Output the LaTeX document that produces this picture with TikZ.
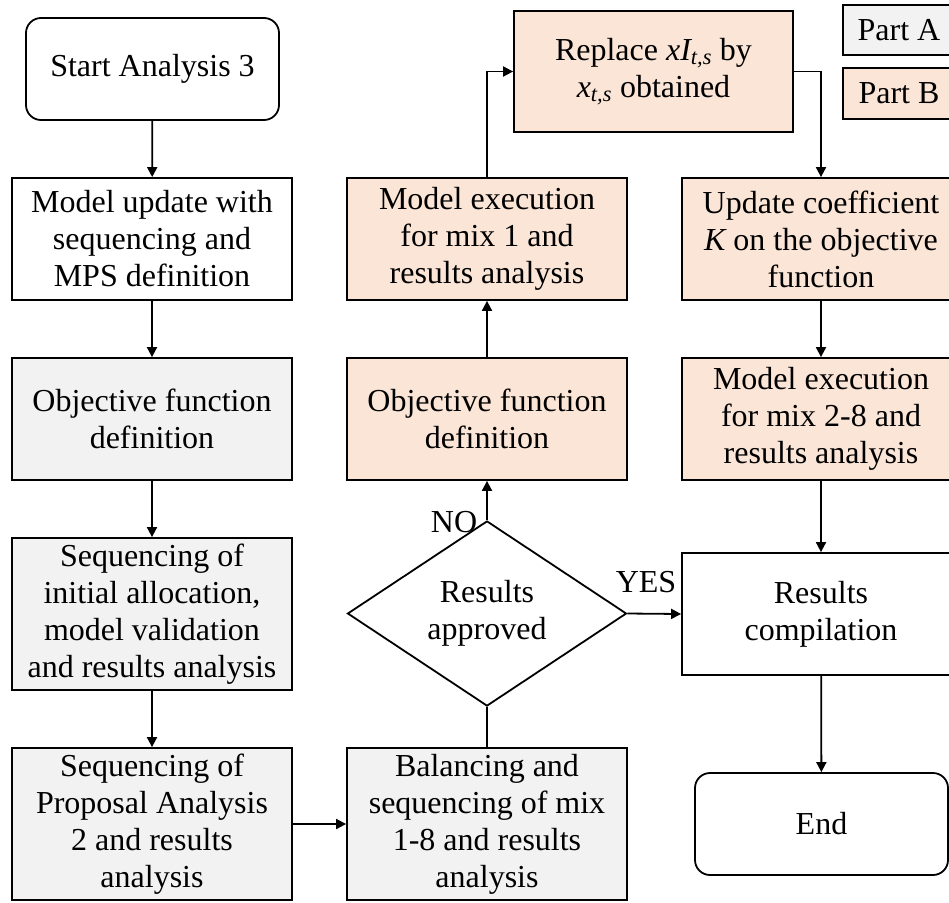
\documentclass[tikz,border=0pt]{standalone}
\usepackage{fontspec}
\setmainfont{Liberation Serif}
\usetikzlibrary{arrows.meta,shapes.geometric}
\definecolor{partA}{HTML}{F2F2F2}
\definecolor{partB}{HTML}{FBE5D6}
\tikzset{
  base/.style={draw=black, line width=1.8pt, align=center, inner sep=2pt,
               font=\fontsize{32}{37}\selectfont},
  plain/.style={base, fill=white, minimum width=280pt, minimum height=122pt},
  grey/.style={base, fill=partA, minimum width=280pt, minimum height=122pt},
  peach/.style={base, fill=partB, minimum width=280pt, minimum height=122pt},
  terminal/.style={base, fill=white, rounded corners=15pt, minimum width=253pt, minimum height=102pt},
  decision/.style={base, diamond, fill=white, inner sep=0pt, minimum width=279pt, minimum height=121pt},
  legend/.style={base, minimum width=112pt, minimum height=50pt},
  flow/.style={line width=1.8pt, -{Triangle[length=10pt,width=10pt]}},
  link/.style={line width=1.8pt},
  tag/.style={font=\fontsize{32}{37}\selectfont, inner sep=0pt}
}
\begin{document}
\begin{tikzpicture}[x=1pt,y=-1pt]
\useasboundingbox (0,0) rectangle (949,902);

% left column
\node[terminal] (start) at (152.5,69) {Start Analysis 3};
\node[plain] (upd) at (152,239) {Model update with\\sequencing and\\MPS definition};
\node[grey] (obj1) at (152,419) {Objective function\\definition};
\node[grey, minimum height=152pt] (seqi) at (152,614) {Sequencing of\\initial allocation,\\model validation\\and results analysis};
\node[grey, minimum height=152pt] (seqp) at (152,824) {Sequencing of\\Proposal Analysis\\2 and results\\analysis};

% middle column
\node[grey, minimum height=152pt] (bal) at (487,824) {Balancing and\\sequencing of mix\\1-8 and results\\analysis};
\node[decision] (dec) at (487,613.5) {Results\\approved};
\node[peach] (obj2) at (487,419) {Objective function\\definition};
\node[peach] (mix1) at (487,239) {Model execution\\for mix 1 and\\results analysis};
\node[peach, minimum width=279pt, minimum height=121pt] (repl) at (653.5,71.5)
  {Replace {\itshape xI}\textsubscript{\itshape t,s} by\\{\itshape x}\textsubscript{\itshape t,s} obtained};

% right column
\node[peach, minimum width=278pt] (upk) at (821,239) {Update coefficient\\{\itshape K} on the objective\\function};
\node[peach, minimum width=278pt] (mix28) at (821,419) {Model execution\\for mix 2-8 and\\results analysis};
\node[plain, minimum width=278pt] (res) at (821,614) {Results\\compilation};
\node[terminal] (fin) at (821.5,824) {End};

% legend
\node[legend, fill=partA] (legA) at (899,30) {Part A};
\node[legend, fill=partB, minimum height=51pt] (legB) at (899,93.5) {Part B};

% connectors
\draw[flow] (start) -- (upd);
\draw[flow] (upd) -- (obj1);
\draw[flow] (obj1) -- (seqi);
\draw[flow] (seqi) -- (seqp);
\draw[flow] (seqp.east |- bal.west) -- (bal.west);
\draw[link] (bal.north) -- (dec.south);
\draw[flow] (dec.north) -- (obj2.south);
\draw[flow] (obj2) -- (mix1);
\draw[flow] (mix1.north) |- (repl.west);
\draw[flow] (repl.east) -| (upk.north);
\draw[flow] (upk) -- (mix28);
\draw[flow] (mix28) -- (res);
\draw[flow] (dec.east) -- (res.west);
\draw[flow] (res) -- (fin);

% branch labels
\node[tag] (no) at (454,522) {NO};
\node[tag] (yes) at (646,582) {YES};
\end{tikzpicture}
\end{document}
